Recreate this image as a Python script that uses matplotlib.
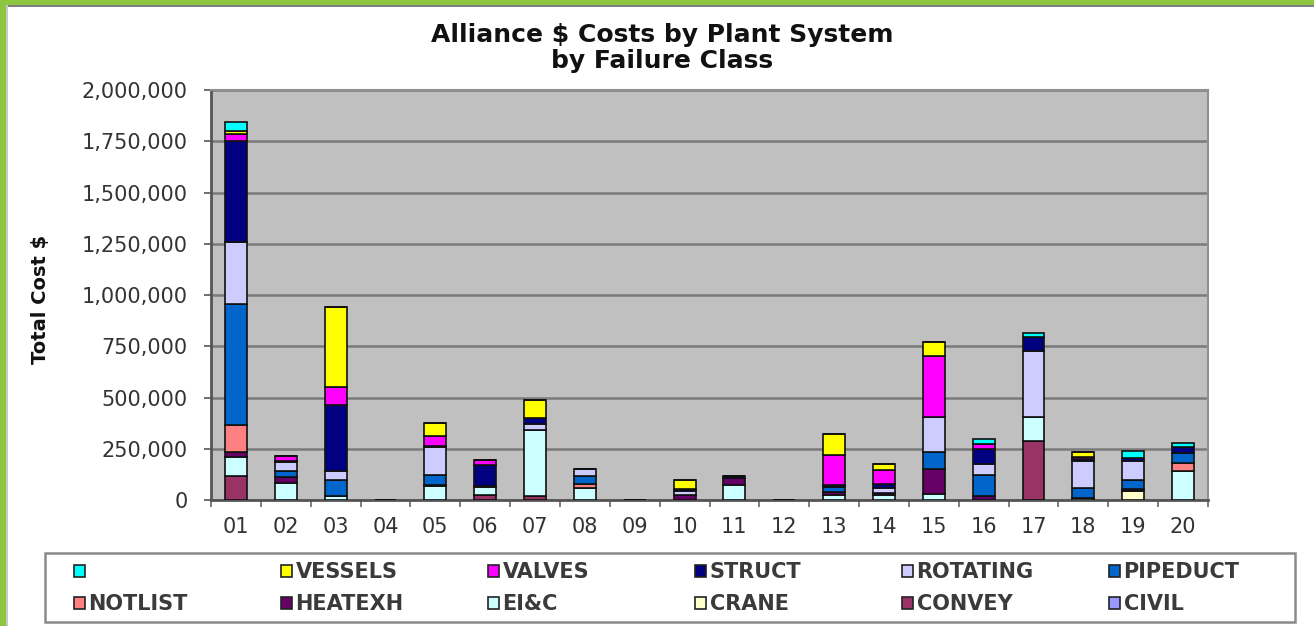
import matplotlib
matplotlib.use('Agg')
import matplotlib.pyplot as plt
import numpy as np
from matplotlib.patches import Rectangle, Patch
from matplotlib.ticker import FuncFormatter

# plant systems on the x axis
systems = ['01', '02', '03', '04', '05', '06', '07', '08', '09', '10',
           '11', '12', '13', '14', '15', '16', '17', '18', '19', '20']

# failure classes, bottom of the stack first
civil    = [0, 0, 0, 0, 0, 0, 0, 0, 0, 0, 0, 0, 0, 0, 0, 0, 0, 0, 0, 0]
convey   = [115000, 0, 0, 0, 0, 22000, 20000, 0, 0, 0, 0, 0, 0, 0, 0, 0, 289000, 0, 0, 0]
crane    = [0, 0, 0, 0, 0, 0, 0, 0, 0, 0, 0, 0, 0, 0, 0, 0, 0, 0, 45000, 0]
eic      = [95000, 81000, 20000, 0, 70000, 43000, 320000, 57000, 0, 0,
            73000, 0, 24000, 24000, 29000, 0, 117000, 12000, 0, 143000]
heatexh  = [22000, 33000, 0, 0, 5000, 5000, 0, 0, 0, 22000,
            32000, 0, 15000, 10000, 120000, 18000, 0, 0, 8000, 0]
notlist  = [135000, 0, 0, 0, 0, 0, 0, 19000, 0, 0, 0, 0, 0, 0, 0, 0, 0, 0, 0, 36000]
pipeduct = [590000, 27000, 77000, 0, 45000, 0, 0, 42000, 0, 0,
            0, 0, 25000, 0, 87000, 104000, 0, 45000, 45000, 52000]
rotating = [300000, 46000, 44000, 0, 140000, 0, 30000, 31000, 0, 20000,
            0, 0, 0, 26000, 170000, 54000, 322000, 135000, 90000, 0]
struct   = [492000, 5000, 322000, 0, 5000, 100000, 28000, 0, 0, 12000,
            12000, 0, 11000, 16000, 0, 71000, 65000, 8000, 19000, 26000]
valves   = [35000, 22000, 90000, 0, 45000, 25000, 0, 0, 0, 0,
            0, 0, 145000, 70000, 296000, 26000, 0, 8000, 0, 0]
vessels  = [15000, 0, 390000, 0, 65000, 0, 92000, 0, 0, 44000,
            0, 0, 100000, 28000, 70000, 0, 0, 27000, 0, 0]
blank    = [45000, 0, 0, 0, 0, 0, 0, 0, 0, 0, 0, 0, 0, 0, 0, 23000, 20000, 0, 32000, 23000]

series = [civil, convey, crane, eic, heatexh, notlist, pipeduct, rotating,
          struct, valves, vessels, blank]
names = ['CIVIL', 'CONVEY', 'CRANE', 'EI&C', 'HEATEXH', 'NOTLIST', 'PIPEDUCT',
         'ROTATING', 'STRUCT', 'VALVES', 'VESSELS', '']
colors = ['#9999FF', '#993366', '#FFFFCC', '#CCFFFF', '#660066', '#FF8080',
          '#0066CC', '#CCCCFF', '#000080', '#FF00FF', '#FFFF00', '#00FFFF']

W, H = 1314, 626
fig = plt.figure(figsize=(W / 100, H / 100), dpi=100)
fig.patch.set_facecolor('white')
ax = fig.add_axes([211 / W, 1 - 500 / H, 997 / W, 410 / H])
ax.set_facecolor('#C0C0C0')

x = np.arange(len(systems))
bottom = np.zeros(len(systems))
for vals, col in zip(series, colors):
    ax.bar(x, vals, width=0.44, bottom=bottom, color=col,
           edgecolor='#101010', linewidth=1.2, zorder=3)
    bottom += np.array(vals)

ax.set_ylim(0, 2000000)
ax.set_xlim(-0.5, len(systems) - 0.5)
ax.set_yticks(np.arange(0, 2000001, 250000))
ax.yaxis.set_major_formatter(FuncFormatter(lambda v, p: f'{int(v):,}'))
ax.grid(axis='y', color='#7A7A7A', linewidth=1.8, zorder=0)
ax.set_axisbelow(True)

ax.set_xticks(x)
ax.set_xticklabels(systems)
ax.set_xticks(np.arange(-0.5, len(systems)), minor=True)
ax.tick_params(axis='x', which='major', length=0, pad=12, labelsize=15,
               labelcolor='#333333')
ax.tick_params(axis='x', which='minor', length=5, width=1.2, color='#666666')
ax.tick_params(axis='y', length=5, width=1.2, color='#555555', pad=12,
               labelsize=15, labelcolor='#333333')

for side in ['top', 'right']:
    ax.spines[side].set_color('#909090')
    ax.spines[side].set_linewidth(1.5)
for side in ['left', 'bottom']:
    ax.spines[side].set_color('#555555')
    ax.spines[side].set_linewidth(2)

ax.set_ylabel('Total Cost $', fontsize=14, fontweight='bold', color='#111111')
ax.yaxis.set_label_coords(-0.1615, 0.49)

fig.text(662 / W, 1 - 48 / H, 'Alliance $ Costs by Plant System\nby Failure Class',
         ha='center', va='center', fontsize=18, fontweight='bold',
         color='#111111', linespacing=1.15)

# legend box
fig.add_artist(Rectangle((45 / W, 1 - 622 / H), 1250 / W, 69 / H,
                         transform=fig.transFigure, facecolor='white',
                         edgecolor='#8A8A8A', linewidth=1.8))

top_row = [11, 10, 9, 8, 7, 6]
bot_row = [5, 4, 3, 2, 1, 0]
for i in range(6):
    hs = [Patch(facecolor=colors[k], edgecolor='#222222', linewidth=1.2)
          for k in (top_row[i], bot_row[i])]
    lb = [names[top_row[i]], names[bot_row[i]]]
    leg = fig.legend(hs, lb, loc='upper left',
                     bbox_to_anchor=((74 + 207 * i) / W, 1 - 562 / H),
                     frameon=False, handlelength=0.55, handleheight=0.5,
                     handletextpad=0.15, borderpad=0, borderaxespad=0,
                     labelspacing=0.6,
                     prop={'size': 15, 'weight': 'bold'})
    for t in leg.get_texts():
        t.set_color('#3A3A3A')

# green frame at top and left
fig.add_artist(Rectangle((0, 1 - 5 / H), 1, 5 / H, transform=fig.transFigure,
                         facecolor='#8DC63F', edgecolor='none'))
fig.add_artist(Rectangle((0, 1 - 7 / H), 1, 2 / H, transform=fig.transFigure,
                         facecolor='#808080', edgecolor='none'))
fig.add_artist(Rectangle((0, 0), 6 / W, 1, transform=fig.transFigure,
                         facecolor='#8DC63F', edgecolor='none'))
fig.add_artist(Rectangle((6 / W, 0), 1.5 / W, 1 - 5 / H, transform=fig.transFigure,
                         facecolor='#C8C8C8', edgecolor='none'))

fig.savefig('out.png', dpi=100)
